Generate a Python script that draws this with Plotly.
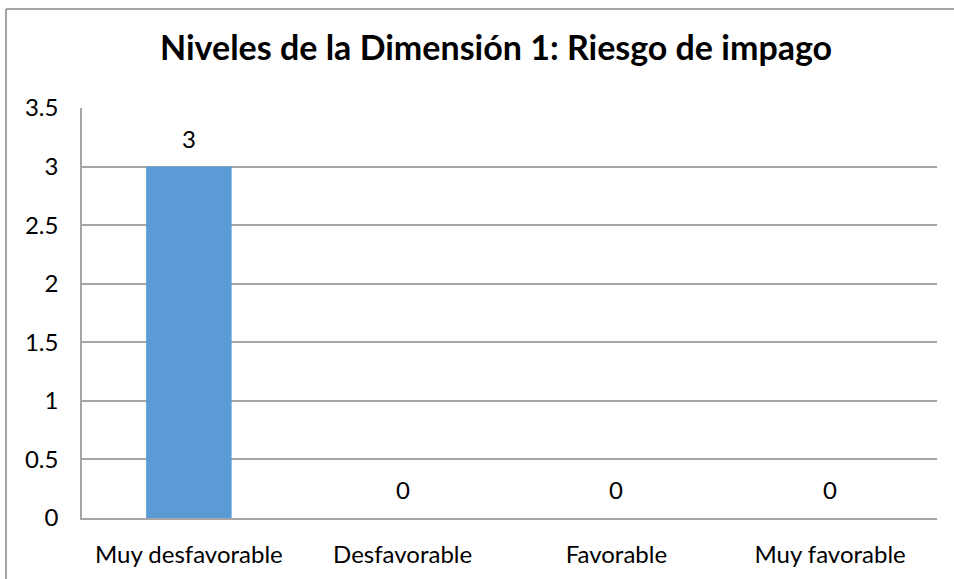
import plotly.graph_objects as go

categories = ["Muy desfavorable", "Desfavorable", "Favorable", "Muy favorable"]
values = [3, 0, 0, 0]
y_ticks = [0, 0.5, 1, 1.5, 2, 2.5, 3, 3.5]
y_tick_labels = ["0", "0.5", "1", "1.5", "2", "2.5", "3", "3.5"]
title_text = "Niveles de la Dimensión 1: Riesgo de impago"

FONT = "Lato"
GRID = "#A6A6A6"

fig = go.Figure()
fig.add_trace(go.Bar(x=categories, y=values, marker_color="#5B9BD5",
                     marker_line_width=0, hoverinfo="x+y"))

for c, v in zip(categories, values):
    fig.add_annotation(x=c, y=v, text=str(v), showarrow=False,
                       yanchor="bottom", yshift=12,
                       font=dict(family=FONT, size=24, color="#000000"))

fig.update_layout(
    width=954, height=579,
    margin=dict(l=82, r=17, t=108, b=61),
    paper_bgcolor="white", plot_bgcolor="white",
    bargap=0.6, showlegend=False,
    title=dict(text="<b>" + title_text + "</b>", x=0.52, xanchor="center",
               y=1 - 48 / 579, yanchor="middle", yref="container",
               font=dict(family=FONT, size=34, color="#000000")),
)
fig.update_xaxes(showgrid=False, showline=True, linecolor=GRID, linewidth=1.5,
                 ticks="", ticklabelstandoff=14,
                 tickfont=dict(family=FONT, size=24, color="#000000"))
fig.update_yaxes(range=[0, 3.5], tickvals=y_ticks, ticktext=y_tick_labels,
                 showgrid=True, gridcolor=GRID, gridwidth=1.5,
                 showline=True, linecolor=GRID, linewidth=1.5,
                 zeroline=False, ticks="", ticklabelstandoff=17,
                 tickfont=dict(family=FONT, size=24, color="#000000"))
# outer chart border (left & top edges visible)
bx = (6 - 82) / 855
by = (518 - 9) / 410
fig.add_shape(type="line", xref="paper", yref="paper", x0=bx, x1=bx, y0=by, y1=-0.3,
              line=dict(color="#898989", width=1.5))
fig.add_shape(type="line", xref="paper", yref="paper", x0=bx, x1=1.1, y0=by, y1=by,
              line=dict(color="#898989", width=1.5))

fig.write_html("out.html")
